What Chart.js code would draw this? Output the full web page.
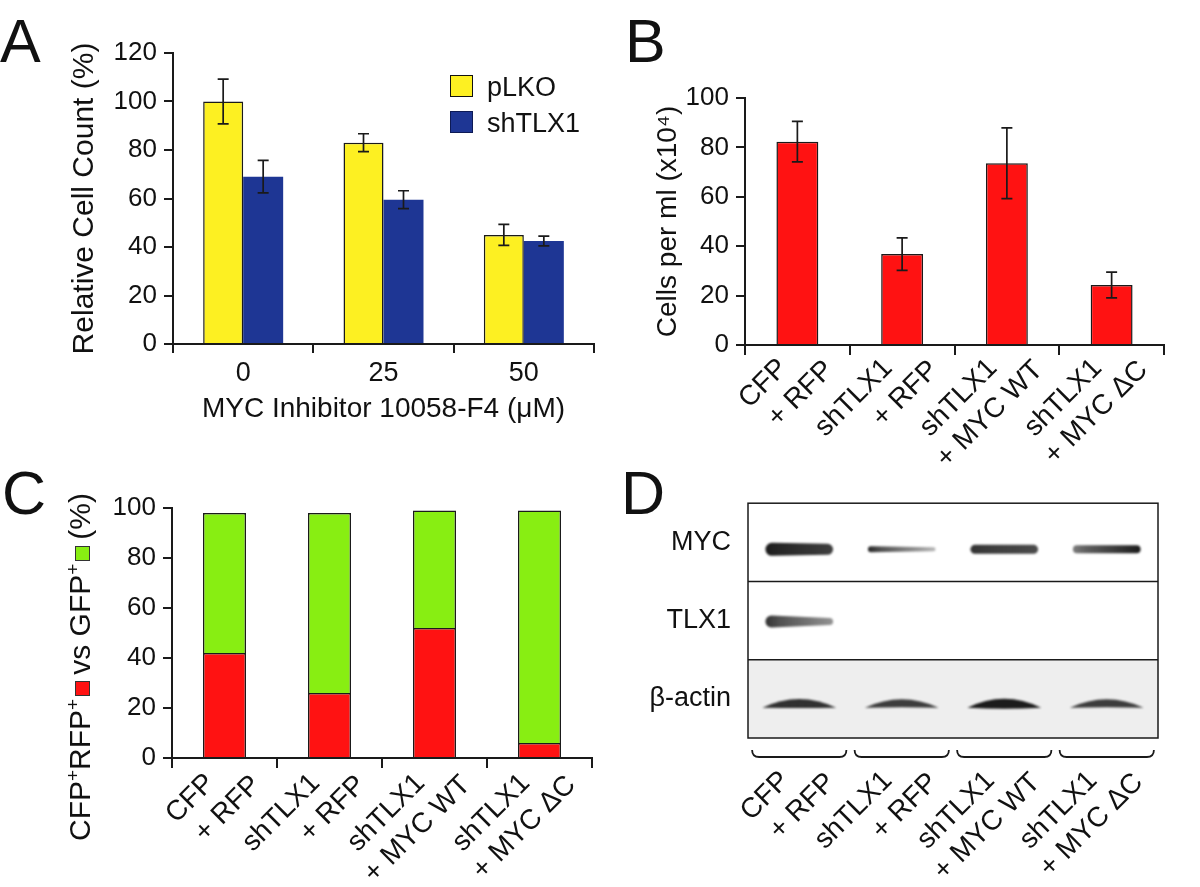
<!DOCTYPE html>
<html><head><meta charset="utf-8">
<script src="https://cdn.jsdelivr.net/npm/chart.js@4.4.0/dist/chart.umd.min.js"></script>
<style>
html,body{margin:0;padding:0;background:#fff;}
#wrap{position:relative;width:1200px;height:887px;overflow:hidden;font-family:"Liberation Sans",Arial,Helvetica,sans-serif;color:#111;background:#fff;}
canvas{position:absolute;}
.letter{position:absolute;font-size:61px;line-height:60px;}
.leg{position:absolute;font-size:27px;line-height:30px;white-space:nowrap;}
.sw{position:absolute;width:23px;height:22px;box-sizing:border-box;border:1.5px solid #111;}
#ctitle{position:absolute;left:80px;top:667px;transform:translate(-50%,-50%) rotate(-90deg);white-space:nowrap;font-size:30px;line-height:34px;}
#ctitle sup{font-size:19px;line-height:0;}
.sq{display:inline-block;width:15px;height:15px;box-sizing:border-box;border:1px solid #333;margin:0 6px 0 3px;vertical-align:baseline;}
</style></head>
<body><div id="wrap">
<canvas id="cA" width="620" height="430" style="left:0;top:0"></canvas>
<canvas id="cB" width="600" height="470" style="left:600px;top:0"></canvas>
<canvas id="cC" width="620" height="447" style="left:0;top:440px"></canvas>
<canvas id="cD" width="600" height="417" style="left:600px;top:470px"></canvas>
<div class="letter" style="left:0px;top:11px">A</div>
<div class="letter" style="left:625px;top:11px">B</div>
<div class="letter" style="left:2px;top:463px">C</div>
<div class="letter" style="left:621px;top:463px">D</div>
<div class="sw" style="left:450px;top:75px;background:#fdf022"></div>
<div class="sw" style="left:450px;top:111px;background:#1e3694;border-color:#0d1a55"></div>
<div class="leg" style="left:487px;top:72px">pLKO</div>
<div class="leg" style="left:487px;top:108px">shTLX1</div>
<div id="ctitle">CFP<sup>+</sup>RFP<sup>+</sup><span class="sq" style="background:#ff1212"></span>vs GFP<sup>+</sup><span class="sq" style="background:#88ee12"></span>(%)</div>
</div>
<script>
// ---------- data ----------
const doseLabels = ['0', '25', '50'];
const pLKO = [100, 83, 45];
const pLKOErr = [9.2, 3.7, 4.3];
const shTLX1 = [69, 59.5, 42.5];
const shTLX1Err = [6.7, 3.7, 2.0];

const condLine1 = ['CFP', 'shTLX1', 'shTLX1', 'shTLX1'];
const condLine2 = ['+ RFP', '+ RFP', '+ MYC WT', '+ MYC ΔC'];

const cellsPerMl = [82.3, 36.8, 73.6, 24.3];
const cellsPerMlErr = [8.2, 6.6, 14.3, 5.2];

const redPct = [42, 26, 52, 6];
const greenPct = [56, 72, 47, 93];

const blotRows = ['MYC', 'TLX1', 'β-actin'];
const mycLeft = [0.95, 0.9, 0.85, 0.55];
const mycRight = [0.8, 0.3, 0.75, 0.95];
const tlxLeft = [0.85, 0, 0, 0];
const tlxRight = [0.45, 0, 0, 0];
const actinLeft = [0.85, 0.8, 0.95, 0.8];
const actinRight = [0.85, 0.8, 0.95, 0.8];

// ---------- common ----------
const FONT = '"Liberation Sans", Arial, Helvetica, sans-serif';
Chart.defaults.font.family = FONT;
Chart.defaults.color = '#111';
const INK = '#1a1a1a';

const errorBars = {
  id: 'errorBars',
  afterDatasetsDraw(chart) {
    const ctx = chart.ctx, y = chart.scales.y;
    chart.data.datasets.forEach((ds, di) => {
      if (!ds.errors) return;
      const meta = chart.getDatasetMeta(di);
      meta.data.forEach((bar, i) => {
        const v = ds.data[i], e = ds.errors[i];
        const yt = y.getPixelForValue(v + e), yb = y.getPixelForValue(v - e);
        ctx.save();
        ctx.strokeStyle = INK; ctx.lineWidth = 1.7;
        ctx.beginPath();
        ctx.moveTo(bar.x, yt); ctx.lineTo(bar.x, yb);
        ctx.moveTo(bar.x - 5.5, yt); ctx.lineTo(bar.x + 5.5, yt);
        ctx.moveTo(bar.x - 5.5, yb); ctx.lineTo(bar.x + 5.5, yb);
        ctx.stroke();
        ctx.restore();
      });
    });
  }
};

function yLinear(max, width, title, tsize) {
  return {
    min: 0, max: max,
    ticks: { stepSize: 20, font: { size: 26 }, padding: 7, color: '#111' },
    grid: { drawOnChartArea: false, color: INK, lineWidth: 2, tickLength: 9 },
    border: { color: INK, width: 2 },
    title: title ? { display: true, text: title, font: { size: tsize }, color: '#111', padding: { top: 4, bottom: 4 } } : { display: false },
    afterFit: s => { s.width = width; }
  };
}
function xCond(height, pad, withGrid) {
  return {
    type: 'category',
    offset: true,
    grid: withGrid ? { drawOnChartArea: false, color: INK, lineWidth: 2, tickLength: 10, offset: true } : { display: false, drawTicks: false },
    border: withGrid ? { color: INK, width: 2 } : { display: false },
    ticks: {
      autoSkip: false, minRotation: 45, maxRotation: 45,
      font: { size: 28, lineHeight: 1.2 }, color: '#111',
      padding: pad, labelOffset: 8,
      callback: (v, i) => [condLine1[i] + '    ', condLine2[i]]
    },
    afterFit: s => { s.height = height; }
  };
}
const baseOpts = {
  responsive: false, animation: false, devicePixelRatio: 1,
  plugins: { legend: { display: false }, tooltip: { enabled: false } }
};

// ---------- Panel A ----------
new Chart(document.getElementById('cA'), {
  type: 'bar',
  data: {
    labels: doseLabels,
    datasets: [
      { label: 'pLKO', data: pLKO, errors: pLKOErr, backgroundColor: '#fdf022', borderColor: INK, borderWidth: 1.5, categoryPercentage: 0.57, barPercentage: 1.0 },
      { label: 'shTLX1', data: shTLX1, errors: shTLX1Err, backgroundColor: '#1e3694', borderWidth: 0, categoryPercentage: 0.57, barPercentage: 1.0 }
    ]
  },
  options: Object.assign({}, baseOpts, {
    layout: { padding: { left: 63, top: 53, right: 26, bottom: 0 } },
    scales: {
      x: {
        offset: true,
        grid: { drawOnChartArea: false, color: INK, lineWidth: 2, tickLength: 9, offset: true },
        border: { color: INK, width: 2 },
        ticks: { font: { size: 27 }, padding: 4, color: '#111' },
        title: { display: true, text: 'MYC Inhibitor 10058-F4 (μM)', font: { size: 28 }, color: '#111', padding: { top: 4, bottom: 4 } },
        afterFit: s => { s.height = 86; }
      },
      y: yLinear(120, 110, 'Relative Cell Count (%)', 30)
    }
  }),
  plugins: [errorBars]
});

// ---------- Panel B ----------
new Chart(document.getElementById('cB'), {
  type: 'bar',
  data: {
    labels: condLine1.map((l, i) => l + ' ' + condLine2[i]),
    datasets: [
      { label: 'Cells per ml', data: cellsPerMl, errors: cellsPerMlErr, backgroundColor: '#ff1212', borderColor: INK, borderWidth: 1.5, categoryPercentage: 0.4, barPercentage: 1.0 }
    ]
  },
  options: Object.assign({}, baseOpts, {
    layout: { padding: { left: 47, top: 98, right: 36, bottom: 0 } },
    scales: {
      x: xCond(125, -25, true),
      y: yLinear(100, 98, 'Cells per ml (x10⁴)', 28)
    }
  }),
  plugins: [errorBars]
});

// ---------- Panel C ----------
new Chart(document.getElementById('cC'), {
  type: 'bar',
  data: {
    labels: condLine1.map((l, i) => l + ' ' + condLine2[i]),
    datasets: [
      { label: 'CFP+RFP+', data: redPct, backgroundColor: '#ff1212', borderColor: INK, borderWidth: 1.5, categoryPercentage: 0.41, barPercentage: 1.0 },
      { label: 'GFP+', data: greenPct, backgroundColor: '#88ee12', borderColor: INK, borderWidth: 1.5, categoryPercentage: 0.41, barPercentage: 1.0 }
    ]
  },
  options: Object.assign({}, baseOpts, {
    layout: { padding: { left: 100, top: 68, right: 28, bottom: 0 } },
    scales: {
      x: Object.assign(xCond(129, -23, true), { stacked: true }),
      y: Object.assign(yLinear(100, 72, null, 28), { stacked: true })
    }
  })
});

// ---------- Panel D (western blot) ----------
const blotStyle = {
  rows: [
    { dy: 7, width: 0.66, thickL: [13, 6, 9, 8], thickR: [11, 4, 9, 8], arch: 0 },
    { dy: 1, width: 0.66, thickL: [12, 0, 0, 0], thickR: [7, 0, 0, 0], arch: 0 },
    { dy: 5, width: 0.72, thickL: [9, 8, 10, 8], thickR: [9, 8, 10, 8], arch: 1 }
  ]
};
const bandData = [[mycLeft, mycRight], [tlxLeft, tlxRight], [actinLeft, actinRight]];

const blotPlugin = {
  id: 'blot',
  beforeDatasetsDraw(chart) {
    const { ctx, chartArea: a, scales: { x, y } } = chart;
    const rowH = Math.abs(y.getPixelForValue(1) - y.getPixelForValue(0));
    const laneW = Math.abs(x.getPixelForValue(1) - x.getPixelForValue(0));
    ctx.save();
    const ya = y.getPixelForValue(2);
    ctx.fillStyle = '#eeeeee';
    ctx.fillRect(a.left, ya - rowH / 2, a.right - a.left, rowH);
    bandData.forEach((pair, r) => {
      const st = blotStyle.rows[r];
      const cy = y.getPixelForValue(r) + st.dy;
      pair[0].forEach((aL, i) => {
        const aR = pair[1][i];
        if (aL <= 0 && aR <= 0) return;
        const cx = x.getPixelForValue(i);
        const w = laneW * st.width;
        const l = cx - w / 2, rr = cx + w / 2;
        const g = ctx.createLinearGradient(l, 0, rr, 0);
        g.addColorStop(0, `rgba(15,15,15,${aL})`);
        g.addColorStop(0.2, `rgba(15,15,15,${aL * 0.7 + aR * 0.3})`);
        g.addColorStop(1, `rgba(15,15,15,${aR})`);
        ctx.fillStyle = g;
        ctx.filter = 'blur(1.3px)';
        ctx.beginPath();
        if (st.arch) {
          const t = st.thickL[i];
          ctx.moveTo(l, cy + 4);
          ctx.quadraticCurveTo(cx, cy - 9 - t / 2, rr, cy + 4);
          ctx.quadraticCurveTo(cx, cy - 9 + t * 1.5, l, cy + 4);
        } else {
          const hl = st.thickL[i] / 2, hr = st.thickR[i] / 2;
          ctx.moveTo(l + hl, cy - hl);
          ctx.lineTo(rr - hr, cy - hr);
          ctx.arc(rr - hr, cy, hr, -Math.PI / 2, Math.PI / 2);
          ctx.lineTo(l + hl, cy + hl);
          ctx.arc(l + hl, cy, hl, Math.PI / 2, Math.PI * 1.5);
        }
        ctx.fill();
        ctx.filter = 'none';
      });
    });
    ctx.strokeStyle = INK; ctx.lineWidth = 1.5;
    ctx.strokeRect(a.left, a.top, a.right - a.left, a.bottom - a.top);
    ctx.beginPath();
    for (let r = 0; r < blotRows.length - 1; r++) {
      const yy = (y.getPixelForValue(r) + y.getPixelForValue(r + 1)) / 2;
      ctx.moveTo(a.left, yy); ctx.lineTo(a.right, yy);
    }
    ctx.stroke();
    ctx.lineWidth = 1.8;
    for (let i = 0; i < condLine1.length; i++) {
      const cx = x.getPixelForValue(i), h = laneW * 0.46;
      const t = a.bottom + 12, b = a.bottom + 19;
      ctx.beginPath();
      ctx.moveTo(cx - h, t);
      ctx.quadraticCurveTo(cx - h, b, cx - h + 7, b);
      ctx.lineTo(cx + h - 7, b);
      ctx.quadraticCurveTo(cx + h, b, cx + h, t);
      ctx.stroke();
    }
    ctx.restore();
  }
};

new Chart(document.getElementById('cD'), {
  type: 'bar',
  data: { labels: condLine1.map((l, i) => l + ' ' + condLine2[i]), datasets: [] },
  options: Object.assign({}, baseOpts, {
    layout: { padding: { left: 20, top: 33, right: 42, bottom: 0 } },
    scales: {
      x: xCond(149, 4.5, false),
      y: {
        type: 'category', labels: blotRows, offset: true,
        grid: { display: false, drawTicks: false }, border: { display: false },
        ticks: { font: { size: 27 }, padding: 17, color: '#111' },
        afterFit: s => { s.width = 128; }
      }
    }
  }),
  plugins: [blotPlugin]
});
</script>
</body></html>
